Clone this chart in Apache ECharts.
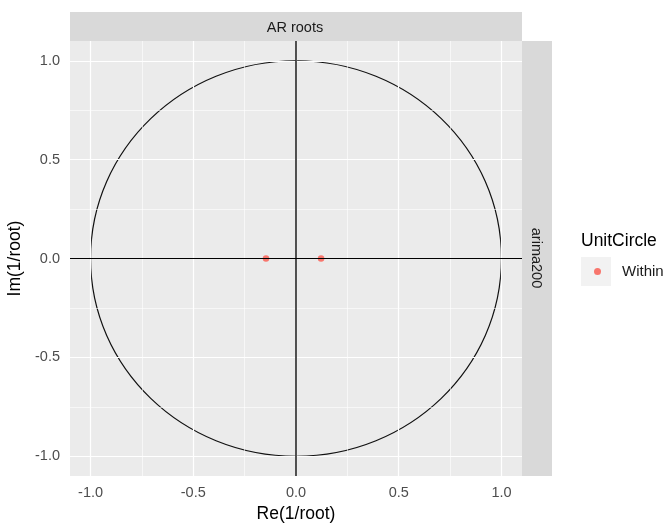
<!DOCTYPE html>
<html>
<head>
<meta charset="utf-8">
<script src="https://cdn.jsdelivr.net/npm/echarts@6/dist/echarts.min.js"></script>
<style>html,body{margin:0;padding:0;background:#fff}#c{width:667px;height:523px}</style>
</head>
<body>
<div id="c"></div>
<script>
// Data
const rootsRe = [-0.146, 0.122];
const rootsIm = [0, 0];
const unitRadius = [1];
const xTicks = [-1.0, -0.5, 0.0, 0.5, 1.0];
const yTicks = [-1.0, -0.5, 0.0, 0.5, 1.0];
const xMinorBreaks = [-0.75, -0.25, 0.25, 0.75];
const yMinorBreaks = [-0.75, -0.25, 0.25, 0.75];
const facetCol = 'AR roots';
const facetRow = 'arima200';
const legendTitle = 'UnitCircle';
const groupName = 'Within';

const FONT = '"Liberation Sans", Arial, sans-serif';
const chart = echarts.init(document.getElementById('c'), null, {renderer: 'canvas'});

const gridLines = [];
xMinorBreaks.forEach(v => gridLines.push({xAxis: v, lineStyle: {width: 0.6}}));
yMinorBreaks.forEach(v => gridLines.push({yAxis: v, lineStyle: {width: 0.6}}));
xTicks.forEach(v => gridLines.push({xAxis: v, lineStyle: {width: 1.2}}));
yTicks.forEach(v => gridLines.push({yAxis: v, lineStyle: {width: 1.2}}));

const fmt = v => Number(v).toFixed(1);

const option = {
  animation: false,
  textStyle: {fontFamily: FONT},
  grid: {left: 70, right: 145, top: 41, bottom: 47, show: true, backgroundColor: '#ebebeb', borderWidth: 0,
    containLabel: false, outerBoundsMode: 'none'},
  xAxis: {
    type: 'value', min: -1.1, max: 1.1,
    splitLine: {show: false},
    axisLine: {show: false},
    axisTick: {show: true, length: 3, customValues: xTicks, lineStyle: {color: '#333333', width: 1}},
    axisLabel: {customValues: xTicks, formatter: fmt, color: '#4d4d4d', fontSize: 14.5, margin: 9, fontFamily: FONT},
    name: 'Re(1/root)', nameLocation: 'middle', nameGap: 26,
    nameTextStyle: {fontSize: 17.5, color: '#000000', fontFamily: FONT}
  },
  yAxis: {
    type: 'value', min: -1.1, max: 1.1,
    splitLine: {show: false},
    axisLine: {show: false},
    axisTick: {show: true, length: 3, customValues: yTicks, lineStyle: {color: '#333333', width: 1}},
    axisLabel: {customValues: yTicks, formatter: fmt, color: '#4d4d4d', fontSize: 14.5, margin: 10, fontFamily: FONT},
    name: 'Im(1/root)', nameLocation: 'middle', nameGap: 40,
    nameTextStyle: {fontSize: 17.5, color: '#000000', fontFamily: FONT}
  },
  legend: {
    show: true, data: [groupName], left: 594, top: 264, padding: 0,
    icon: 'circle', itemWidth: 7, itemHeight: 7,
    textStyle: {fontSize: 15, color: '#1a1a1a', padding: [0, 0, 0, 16], fontFamily: FONT}
  },
  graphic: [
    {type: 'rect', left: 70, top: 12, shape: {width: 452, height: 29}, style: {fill: '#d9d9d9'}, z: 0},
    {type: 'text', x: 295, y: 28, style: {text: facetCol, fill: '#1a1a1a', align: 'center', verticalAlign: 'middle', font: '14.5px ' + FONT}, z: 1},
    {type: 'rect', left: 522, top: 41, shape: {width: 30, height: 435}, style: {fill: '#d9d9d9'}, z: 0},
    {type: 'text', x: 536, y: 258, rotation: -Math.PI / 2, style: {text: facetRow, fill: '#1a1a1a', align: 'center', verticalAlign: 'middle', font: '14.5px ' + FONT}, z: 1},
    {type: 'text', x: 581, y: 241, style: {text: legendTitle, fill: '#000000', align: 'left', verticalAlign: 'middle', font: '17.5px ' + FONT}, z: 1},
    {type: 'rect', left: 581, top: 257, shape: {width: 30, height: 29}, style: {fill: '#f2f2f2'}, z: 0}
  ],
  series: [
    {
      type: 'line', data: [], silent: true, z: 1,
      markLine: {silent: true, symbol: ['none', 'none'], label: {show: false}, animation: false,
        lineStyle: {color: '#ffffff', type: 'solid'}, data: gridLines}
    },
    {
      type: 'custom', silent: true, z: 2,
      data: unitRadius.map(r => [0, 0, r]),
      renderItem: function (params, api) {
        const c = api.coord([api.value(0), api.value(1)]);
        const r = api.value(2);
        const s = api.size([r, r]);
        return {type: 'ellipse', shape: {cx: c[0], cy: c[1], rx: s[0], ry: s[1]},
          style: {fill: null, stroke: '#111111', lineWidth: 1.2}};
      }
    },
    {
      type: 'line', data: [], silent: true, z: 3,
      markLine: {silent: true, symbol: ['none', 'none'], label: {show: false}, animation: false,
        data: [
          {xAxis: 0, lineStyle: {color: '#333333', width: 1.7, type: 'solid'}},
          {yAxis: 0, lineStyle: {color: '#000000', width: 1.2, type: 'solid'}}
        ]}
    },
    {
      name: groupName, type: 'scatter', z: 4,
      symbol: 'circle', symbolSize: 6.5,
      itemStyle: {color: '#F8766D', opacity: 1},
      data: rootsRe.map((x, i) => [x, rootsIm[i]])
    }
  ]
};
chart.setOption(option);
</script>
</body>
</html>
